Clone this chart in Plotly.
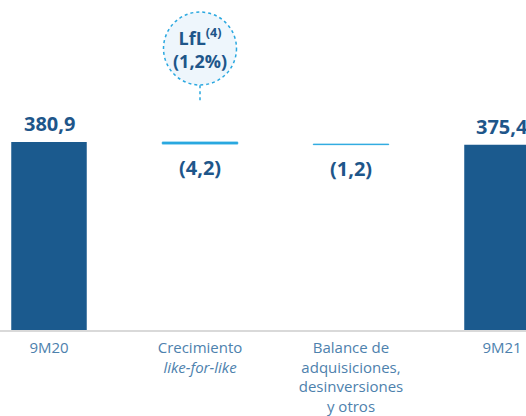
import plotly.graph_objects as go

categories = ["9M20", "Crecimiento like-for-like", "Balance de adquisiciones, desinversiones y otros", "9M21"]
tick_labels = ["9M20", "Crecimiento<br><i>like-for-like</i>", "Balance de<br>adquisiciones,<br>desinversiones<br>y otros", "9M21"]
measures = ["absolute", "relative", "relative", "absolute"]
values = [380.9, -4.2, -1.2, 375.4]
value_labels = ["380,9", "(4,2)", "(1,2)", "375,4"]
lfl_label = "LfL<sup>(4)</sup><br>(1,2%)"

DARK = "#1B5A8E"
LIGHT = "#2AA8E0"
TEXT = "#1E568A"
TICK = "#4D81AD"
FONT = "Open Sans"

fig = go.Figure(go.Waterfall(
    x=categories,
    y=values,
    measure=measures,
    width=0.5,
    totals=dict(marker=dict(color=DARK)),
    decreasing=dict(marker=dict(color=LIGHT, line=dict(color=LIGHT, width=0.8))),
    increasing=dict(marker=dict(color=LIGHT)),
    connector=dict(visible=False),
    hoverinfo="skip",
))

# value labels
running = 0.0
annotations = []
for cat, m, v, lab in zip(categories, measures, values, value_labels):
    if m == "absolute":
        running = v
        annotations.append(dict(x=cat, y=running, xref="x", yref="y", text=f"<b>{lab}</b>",
                                showarrow=False, yanchor="bottom", yshift=3,
                                font=dict(family=FONT, size=20, color=TEXT)))
    else:
        running += v
        annotations.append(dict(x=cat, y=running, xref="x", yref="y", text=f"<b>{lab}</b>",
                                showarrow=False, yanchor="top", yshift=-8,
                                font=dict(family=FONT, size=20, color=TEXT)))

# LfL bubble
annotations.append(dict(x=categories[1], y=0.853, xref="x", yref="paper", text=f"<b>{lfl_label}</b>",
                        showarrow=False, xanchor="center", yanchor="middle",
                        font=dict(family=FONT, size=18, color=TEXT)))

shapes = [
    dict(type="circle", xref="x", yref="paper", xsizemode="pixel", ysizemode="pixel",
         xanchor=1, yanchor=0.853, x0=-36.5, x1=36.5, y0=-36.5, y1=36.5,
         fillcolor="#EEF6FC", line=dict(color=LIGHT, width=1.5, dash="dot"), layer="below"),
    dict(type="line", xref="x", yref="paper", x0=1, x1=1, y0=0.742, y1=0.69,
         line=dict(color=LIGHT, width=1.5, dash="dot")),
]

fig.update_layout(
    width=526, height=416,
    margin=dict(l=0, r=0, t=0, b=86, autoexpand=False),
    plot_bgcolor="white", paper_bgcolor="white",
    showlegend=False,
    annotations=annotations,
    shapes=shapes,
    xaxis=dict(
        type="category",
        automargin=False,
        range=[-0.3245, 3.159],
        tickmode="array", tickvals=categories, ticktext=tick_labels,
        tickfont=dict(family=FONT, size=15, color=TICK),
        showline=True, linecolor="#D9D9D9", linewidth=2,
        ticks="outside", ticklen=3, tickcolor="rgba(0,0,0,0)",
        showgrid=False, zeroline=False,
    ),
    yaxis=dict(range=[0, 668.6], visible=False, showgrid=False, zeroline=False),
)

fig.write_html("out.html")
